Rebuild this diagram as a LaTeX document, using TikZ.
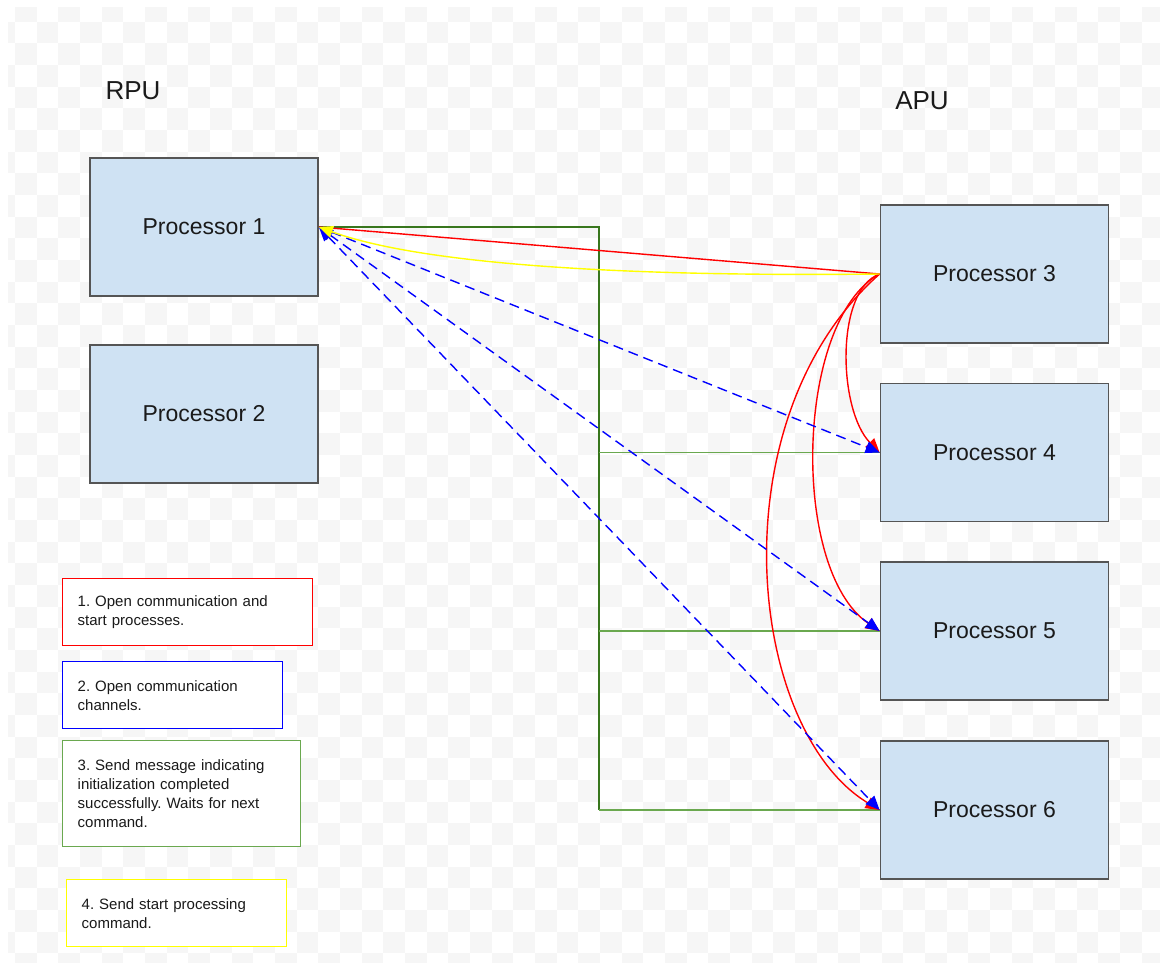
\documentclass[tikz,border=0pt]{standalone}
\usepackage{fontspec}
\setmainfont{Liberation Sans}
\usetikzlibrary{arrows.meta}
\frenchspacing
\definecolor{procfill}{HTML}{CFE2F3}
\definecolor{procdraw}{HTML}{555555}
\definecolor{chk}{RGB}{246,246,246}
\definecolor{lred}{HTML}{FF0000}
\definecolor{lblue}{HTML}{0000FF}
\definecolor{lgreen}{HTML}{6AA84F}
\definecolor{dgreen}{HTML}{38761D}
\definecolor{lyellow}{HTML}{FFFF00}
\definecolor{txt}{HTML}{1A1A1A}
\tikzset{
  proc/.style={draw=procdraw, fill=procfill, line width=1.8pt, minimum width=228pt, minimum height=138pt, inner sep=0pt, font=\fontsize{23}{28}\selectfont, text=txt},
  legend/.style={draw=#1, line width=1.4pt, fill=white, anchor=north west, align=left, inner xsep=15pt, inner ysep=0pt, font=\fontsize{15}{19}\selectfont, text=txt},
  title/.style={font=\fontsize{26}{30}\selectfont, text=txt},
  tip/.style={-{Triangle[length=14pt,width=12pt]}},
  dtip/.style={{Triangle[length=14pt,width=12pt]}-{Triangle[length=14pt,width=12pt]}},
  conn/.style={line width=1.4pt}
}
\begin{document}
\begin{tikzpicture}[x=1pt,y=-1pt]
\useasboundingbox (0,0) rectangle (1160,962);
\fill[white] (0,0) rectangle (1160,962);
% checker background
\begin{scope}
\clip (8,7) rectangle (1160,962);
\foreach \i in {-1,...,53}{
  \foreach \j in {0,...,45}{
    \pgfmathtruncatemacro{\p}{mod(\i+\j+200,2)}
    \ifnum\p=0
      \fill[chk] ({15+\i*21.667},{\j*21.667}) rectangle ++(21.667,21.667);
    \fi
  }
}
\end{scope}

% titles
\node[title] (rpu) at (133,91) {RPU};
\node[title] (apu) at (922,101) {APU};

% processors
\node[proc] (p1) at (204,227) {Processor 1};
\node[proc] (p2) at (204,414) {Processor 2};
\node[proc] (p3) at (994.5,274) {Processor 3};
\node[proc] (p4) at (994.5,452.5) {Processor 4};
\node[proc] (p5) at (994.5,631) {Processor 5};
\node[proc] (p6) at (994.5,810) {Processor 6};

% legend
\node[legend=lred, text width=220pt, minimum height=67pt] (l1) at (62,578) {1. Open communication and\\start processes.};
\node[legend=lblue, text width=190pt, minimum height=67pt] (l2) at (62,661) {2. Open communication\\channels.};
\node[legend=lgreen, text width=208pt, minimum height=106pt] (l3) at (62,740) {3. Send message indicating\\initialization completed\\successfully. Waits for next\\command.};
\node[legend=lyellow, text width=190pt, minimum height=67pt] (l4) at (66,879) {4. Send start processing\\command.};

% green connectors
\coordinate (gx) at (599,0);
\draw[conn, dgreen] (p1.east) -| (gx |- p6.west);
\draw[conn, lgreen] (gx |- p4.west) -- (p4.west);
\draw[conn, lgreen] (gx |- p5.west) -- (p5.west);
\draw[conn, lgreen] (gx |- p6.west) -- (p6.west);

% red connectors
\draw[conn, lred] (p3.west) -- (p1.east);
\draw[conn, lred, tip] (p3.west) .. controls (835,290) and (838,410) .. (p4.west);
\draw[conn, lred, tip] (p3.west) .. controls (795,320) and (790,570) .. (p5.west);
\draw[conn, lred, tip] (p3.west) .. controls (715,420) and (747,730) .. (p6.west);

% blue dashed connectors
\draw[conn, lblue, dash pattern=on 10pt off 6pt, dtip] (p1.east) -- (p4.west);
\draw[conn, lblue, dash pattern=on 10pt off 6pt, dtip] (p1.east) -- (p5.west);
\draw[conn, lblue, dash pattern=on 10pt off 6pt, dtip] (p1.east) -- (p6.west);

% yellow connector
\draw[conn, lyellow, tip] (p3.west) .. controls (620,277) and (420,264) .. (p1.east);
\end{tikzpicture}
\end{document}
